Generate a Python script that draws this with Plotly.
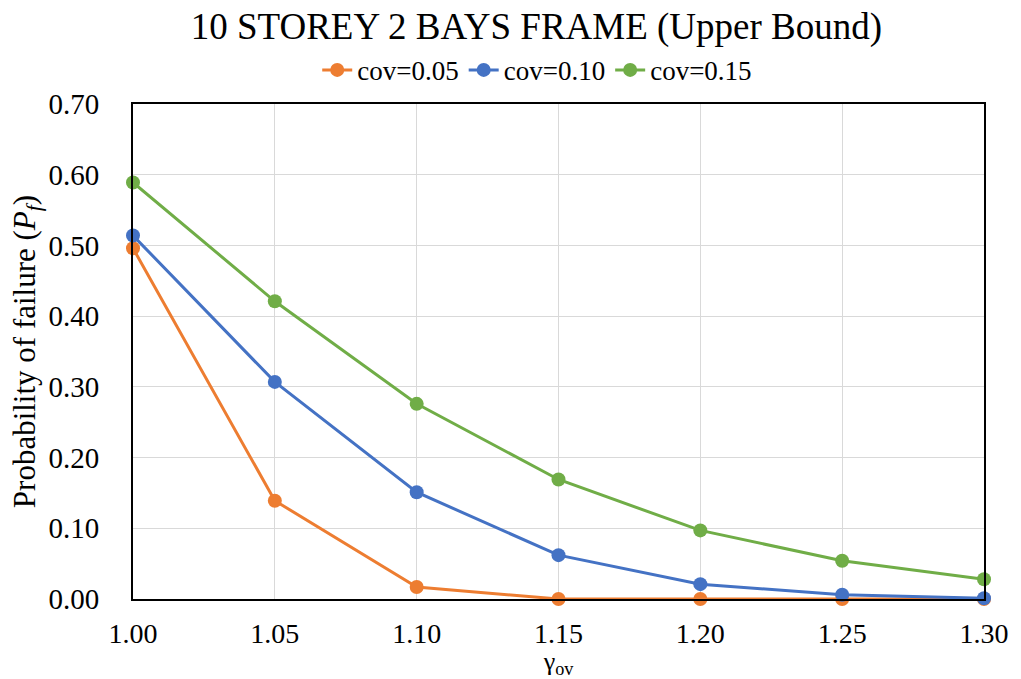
import plotly.graph_objects as go

# Overstrength factor values on the x axis
gamma_ov = [1.00, 1.05, 1.10, 1.15, 1.20, 1.25, 1.30]

# Probability of failure for each coefficient of variation
pf_cov005 = [0.496, 0.139, 0.017, 0.000, 0.000, 0.000, 0.000]
pf_cov010 = [0.514, 0.307, 0.151, 0.062, 0.021, 0.006, 0.001]
pf_cov015 = [0.589, 0.421, 0.276, 0.169, 0.097, 0.054, 0.028]

series_names = ["cov=0.05", "cov=0.10", "cov=0.15"]
series_colors = ["#ED7D31", "#4472C4", "#70AD47"]

x_ticks = [1.00, 1.05, 1.10, 1.15, 1.20, 1.25, 1.30]
y_ticks = [0.0, 0.1, 0.2, 0.3, 0.4, 0.5, 0.6, 0.7]

FONT = "Liberation Serif"

fig = go.Figure()
for name, values, color in zip(series_names, [pf_cov005, pf_cov010, pf_cov015], series_colors):
    fig.add_trace(go.Scatter(
        x=gamma_ov, y=values, name=name, mode="lines+markers",
        line=dict(color=color, width=3),
        marker=dict(color=color, size=14),
        cliponaxis=False,
    ))

fig.update_layout(
    width=1021, height=679,
    margin=dict(l=133, r=30, t=104, b=78),
    paper_bgcolor="white", plot_bgcolor="white",
    font=dict(family=FONT, color="#000000"),
    title=dict(text="10 STOREY 2 BAYS FRAME (Upper Bound)", xref="paper", x=0.474, xanchor="center",
               y=0.962, yanchor="middle", font=dict(size=37, family=FONT, color="#000000")),
    legend=dict(orientation="h", x=0.475, xanchor="center", y=1.068, yanchor="middle",
                font=dict(size=27, family=FONT), tracegroupgap=0,
                bgcolor="rgba(0,0,0,0)"),
    xaxis=dict(range=[1.0, 1.3], tickvals=x_ticks, ticktext=[f"{v:.2f}" for v in x_ticks],
               showgrid=True, gridcolor="#D9D9D9", gridwidth=1,
               showline=True, linecolor="#000000", linewidth=2, mirror=True,
               zeroline=False, ticks="", ticklabelstandoff=8,
               tickfont=dict(size=28, family=FONT),
               title=dict(text="γ<sub>ov</sub>", font=dict(size=26, family=FONT), standoff=0)),
    yaxis=dict(range=[0, 0.7], tickvals=y_ticks, ticktext=[f"{v:.2f}" for v in y_ticks],
               showgrid=True, gridcolor="#D9D9D9", gridwidth=1,
               showline=True, linecolor="#000000", linewidth=2, mirror=True,
               zeroline=False, ticks="", ticklabelstandoff=26,
               tickfont=dict(size=29, family=FONT),
               title=dict(text="Probability of failure (<i>P<sub>f</sub></i>)",
                          font=dict(size=31, family=FONT), standoff=4)),
)

fig.write_html("out.html")
